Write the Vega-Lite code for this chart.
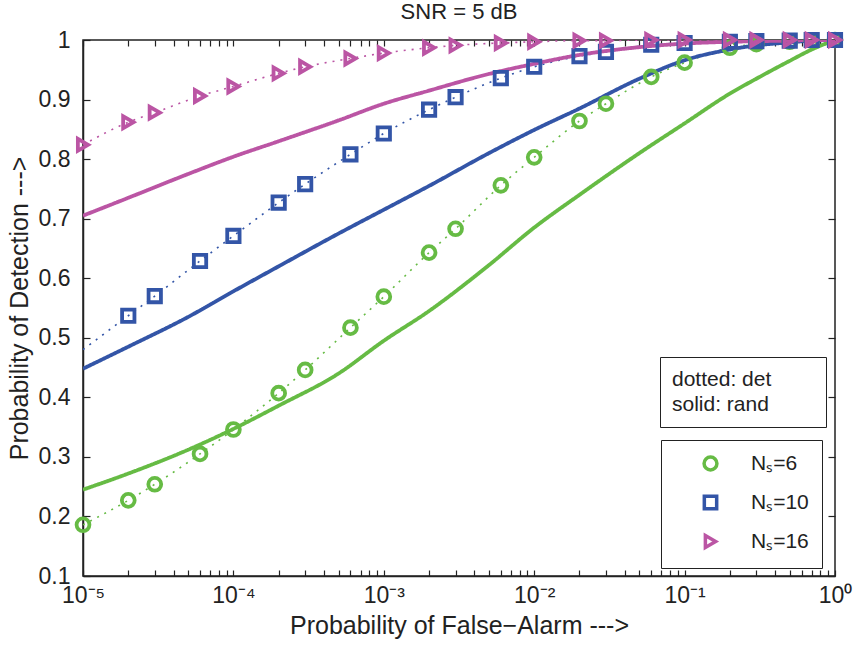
{
  "$schema": "https://vega.github.io/schema/vega-lite/v6.json",
  "width": 752,
  "height": 536,
  "autosize": {"type": "none"},
  "padding": {"left": 83, "top": 40, "right": 18, "bottom": 72},
  "background": "white",
  "title": {"text": "SNR = 5 dB", "fontSize": 22, "fontWeight": "normal", "font": "Liberation Sans", "color": "#222", "offset": 2, "anchor": "middle"},
  "config": {
    "view": {"stroke": "#222", "strokeWidth": 1.5},
    "font": "Liberation Sans",
    "axis": {"labelFont": "Liberation Sans", "titleFont": "Liberation Sans", "labelFontSize": 23, "titleFontSize": 25, "titleFontWeight": "normal", "labelColor": "#222", "titleColor": "#222", "domainColor": "#222", "tickColor": "#222", "grid": false, "tickWidth": 1.2, "domainWidth": 1.5},
    "legend": {"labelFont": "Liberation Sans", "labelFontSize": 21, "labelColor": "#222", "strokeColor": "#222", "fillColor": "white", "labelLimit": 400}
  },
  "data": {"values": [
    {"x": 0.00001, "pd": 0.186, "Ns": "6", "type": "det"},
    {"x": 0.00002, "pd": 0.227, "Ns": "6", "type": "det"},
    {"x": 0.00003, "pd": 0.254, "Ns": "6", "type": "det"},
    {"x": 0.00006, "pd": 0.305, "Ns": "6", "type": "det"},
    {"x": 0.0001, "pd": 0.346, "Ns": "6", "type": "det"},
    {"x": 0.0002, "pd": 0.407, "Ns": "6", "type": "det"},
    {"x": 0.0003, "pd": 0.446, "Ns": "6", "type": "det"},
    {"x": 0.0006, "pd": 0.517, "Ns": "6", "type": "det"},
    {"x": 0.001, "pd": 0.569, "Ns": "6", "type": "det"},
    {"x": 0.002, "pd": 0.643, "Ns": "6", "type": "det"},
    {"x": 0.003, "pd": 0.683, "Ns": "6", "type": "det"},
    {"x": 0.006, "pd": 0.756, "Ns": "6", "type": "det"},
    {"x": 0.01, "pd": 0.803, "Ns": "6", "type": "det"},
    {"x": 0.02, "pd": 0.864, "Ns": "6", "type": "det"},
    {"x": 0.03, "pd": 0.893, "Ns": "6", "type": "det"},
    {"x": 0.06, "pd": 0.938, "Ns": "6", "type": "det"},
    {"x": 0.1, "pd": 0.962, "Ns": "6", "type": "det"},
    {"x": 0.2, "pd": 0.987, "Ns": "6", "type": "det"},
    {"x": 0.3, "pd": 0.993, "Ns": "6", "type": "det"},
    {"x": 0.5, "pd": 0.997, "Ns": "6", "type": "det"},
    {"x": 0.7, "pd": 0.999, "Ns": "6", "type": "det"},
    {"x": 1, "pd": 1.0, "Ns": "6", "type": "det"},
    {"x": 0.00001, "pd": 0.48, "Ns": "10", "type": "det"},
    {"x": 0.00002, "pd": 0.537, "Ns": "10", "type": "det"},
    {"x": 0.00003, "pd": 0.570, "Ns": "10", "type": "det"},
    {"x": 0.00006, "pd": 0.629, "Ns": "10", "type": "det"},
    {"x": 0.0001, "pd": 0.671, "Ns": "10", "type": "det"},
    {"x": 0.0002, "pd": 0.727, "Ns": "10", "type": "det"},
    {"x": 0.0003, "pd": 0.758, "Ns": "10", "type": "det"},
    {"x": 0.0006, "pd": 0.808, "Ns": "10", "type": "det"},
    {"x": 0.001, "pd": 0.843, "Ns": "10", "type": "det"},
    {"x": 0.002, "pd": 0.883, "Ns": "10", "type": "det"},
    {"x": 0.003, "pd": 0.904, "Ns": "10", "type": "det"},
    {"x": 0.006, "pd": 0.936, "Ns": "10", "type": "det"},
    {"x": 0.01, "pd": 0.955, "Ns": "10", "type": "det"},
    {"x": 0.02, "pd": 0.973, "Ns": "10", "type": "det"},
    {"x": 0.03, "pd": 0.980, "Ns": "10", "type": "det"},
    {"x": 0.06, "pd": 0.992, "Ns": "10", "type": "det"},
    {"x": 0.1, "pd": 0.995, "Ns": "10", "type": "det"},
    {"x": 0.2, "pd": 0.997, "Ns": "10", "type": "det"},
    {"x": 0.3, "pd": 0.998, "Ns": "10", "type": "det"},
    {"x": 0.5, "pd": 0.999, "Ns": "10", "type": "det"},
    {"x": 0.7, "pd": 1.0, "Ns": "10", "type": "det"},
    {"x": 1, "pd": 1.0, "Ns": "10", "type": "det"},
    {"x": 0.00001, "pd": 0.824, "Ns": "16", "type": "det"},
    {"x": 0.00002, "pd": 0.862, "Ns": "16", "type": "det"},
    {"x": 0.00003, "pd": 0.878, "Ns": "16", "type": "det"},
    {"x": 0.00006, "pd": 0.906, "Ns": "16", "type": "det"},
    {"x": 0.0001, "pd": 0.922, "Ns": "16", "type": "det"},
    {"x": 0.0002, "pd": 0.944, "Ns": "16", "type": "det"},
    {"x": 0.0003, "pd": 0.955, "Ns": "16", "type": "det"},
    {"x": 0.0006, "pd": 0.969, "Ns": "16", "type": "det"},
    {"x": 0.001, "pd": 0.978, "Ns": "16", "type": "det"},
    {"x": 0.002, "pd": 0.987, "Ns": "16", "type": "det"},
    {"x": 0.003, "pd": 0.991, "Ns": "16", "type": "det"},
    {"x": 0.006, "pd": 0.995, "Ns": "16", "type": "det"},
    {"x": 0.01, "pd": 0.997, "Ns": "16", "type": "det"},
    {"x": 0.02, "pd": 0.999, "Ns": "16", "type": "det"},
    {"x": 0.03, "pd": 0.999, "Ns": "16", "type": "det"},
    {"x": 0.06, "pd": 1.0, "Ns": "16", "type": "det"},
    {"x": 0.1, "pd": 1.0, "Ns": "16", "type": "det"},
    {"x": 0.2, "pd": 1.0, "Ns": "16", "type": "det"},
    {"x": 0.3, "pd": 1.0, "Ns": "16", "type": "det"},
    {"x": 0.5, "pd": 1.0, "Ns": "16", "type": "det"},
    {"x": 0.7, "pd": 1.0, "Ns": "16", "type": "det"},
    {"x": 1, "pd": 1.0, "Ns": "16", "type": "det"},
    {"x": 0.00001, "pd": 0.245, "Ns": "6", "type": "rand"},
    {"x": 0.00002, "pd": 0.272, "Ns": "6", "type": "rand"},
    {"x": 0.00005, "pd": 0.312, "Ns": "6", "type": "rand"},
    {"x": 0.0001, "pd": 0.347, "Ns": "6", "type": "rand"},
    {"x": 0.0002, "pd": 0.386, "Ns": "6", "type": "rand"},
    {"x": 0.0005, "pd": 0.44, "Ns": "6", "type": "rand"},
    {"x": 0.001, "pd": 0.495, "Ns": "6", "type": "rand"},
    {"x": 0.002, "pd": 0.545, "Ns": "6", "type": "rand"},
    {"x": 0.005, "pd": 0.622, "Ns": "6", "type": "rand"},
    {"x": 0.01, "pd": 0.685, "Ns": "6", "type": "rand"},
    {"x": 0.02, "pd": 0.74, "Ns": "6", "type": "rand"},
    {"x": 0.05, "pd": 0.81, "Ns": "6", "type": "rand"},
    {"x": 0.1, "pd": 0.86, "Ns": "6", "type": "rand"},
    {"x": 0.2, "pd": 0.91, "Ns": "6", "type": "rand"},
    {"x": 0.3, "pd": 0.935, "Ns": "6", "type": "rand"},
    {"x": 0.5, "pd": 0.965, "Ns": "6", "type": "rand"},
    {"x": 0.7, "pd": 0.984, "Ns": "6", "type": "rand"},
    {"x": 1, "pd": 1.0, "Ns": "6", "type": "rand"},
    {"x": 0.00001, "pd": 0.448, "Ns": "10", "type": "rand"},
    {"x": 0.00002, "pd": 0.485, "Ns": "10", "type": "rand"},
    {"x": 0.00005, "pd": 0.535, "Ns": "10", "type": "rand"},
    {"x": 0.0001, "pd": 0.578, "Ns": "10", "type": "rand"},
    {"x": 0.0002, "pd": 0.62, "Ns": "10", "type": "rand"},
    {"x": 0.0005, "pd": 0.675, "Ns": "10", "type": "rand"},
    {"x": 0.001, "pd": 0.715, "Ns": "10", "type": "rand"},
    {"x": 0.002, "pd": 0.755, "Ns": "10", "type": "rand"},
    {"x": 0.005, "pd": 0.81, "Ns": "10", "type": "rand"},
    {"x": 0.01, "pd": 0.849, "Ns": "10", "type": "rand"},
    {"x": 0.02, "pd": 0.885, "Ns": "10", "type": "rand"},
    {"x": 0.05, "pd": 0.935, "Ns": "10", "type": "rand"},
    {"x": 0.1, "pd": 0.966, "Ns": "10", "type": "rand"},
    {"x": 0.2, "pd": 0.984, "Ns": "10", "type": "rand"},
    {"x": 0.3, "pd": 0.991, "Ns": "10", "type": "rand"},
    {"x": 0.5, "pd": 0.996, "Ns": "10", "type": "rand"},
    {"x": 0.7, "pd": 0.999, "Ns": "10", "type": "rand"},
    {"x": 1, "pd": 1.0, "Ns": "10", "type": "rand"},
    {"x": 0.00001, "pd": 0.705, "Ns": "16", "type": "rand"},
    {"x": 0.00002, "pd": 0.735, "Ns": "16", "type": "rand"},
    {"x": 0.00005, "pd": 0.775, "Ns": "16", "type": "rand"},
    {"x": 0.0001, "pd": 0.804, "Ns": "16", "type": "rand"},
    {"x": 0.0002, "pd": 0.83, "Ns": "16", "type": "rand"},
    {"x": 0.0005, "pd": 0.865, "Ns": "16", "type": "rand"},
    {"x": 0.001, "pd": 0.893, "Ns": "16", "type": "rand"},
    {"x": 0.002, "pd": 0.915, "Ns": "16", "type": "rand"},
    {"x": 0.005, "pd": 0.943, "Ns": "16", "type": "rand"},
    {"x": 0.01, "pd": 0.96, "Ns": "16", "type": "rand"},
    {"x": 0.02, "pd": 0.975, "Ns": "16", "type": "rand"},
    {"x": 0.05, "pd": 0.988, "Ns": "16", "type": "rand"},
    {"x": 0.1, "pd": 0.994, "Ns": "16", "type": "rand"},
    {"x": 0.2, "pd": 0.997, "Ns": "16", "type": "rand"},
    {"x": 0.3, "pd": 0.998, "Ns": "16", "type": "rand"},
    {"x": 0.5, "pd": 0.999, "Ns": "16", "type": "rand"},
    {"x": 0.7, "pd": 1.0, "Ns": "16", "type": "rand"},
    {"x": 1, "pd": 1.0, "Ns": "16", "type": "rand"}
  ]},
  "layer": [
    {
      "mark": {"type": "line", "clip": true, "interpolate": "monotone"},
      "encoding": {
        "x": {"field": "x", "type": "quantitative", "scale": {"type": "log", "domain": [0.00001, 1]},
          "axis": {"orient": "bottom", "title": "Probability of False−Alarm  --->", "titlePadding": 6,
            "values": [0.00001,0.00002,0.00003,0.00004,0.00005,0.00006,0.00007,0.00008,0.00009,0.0001,0.0002,0.0003,0.0004,0.0005,0.0006,0.0007,0.0008,0.0009,0.001,0.002,0.003,0.004,0.005,0.006,0.007,0.008,0.009,0.01,0.02,0.03,0.04,0.05,0.06,0.07,0.08,0.09,0.1,0.2,0.3,0.4,0.5,0.6,0.7,0.8,0.9,1],
            "labelExpr": "datum.value==0.00001?'10⁻⁵':datum.value==0.0001?'10⁻⁴':datum.value==0.001?'10⁻³':datum.value==0.01?'10⁻²':datum.value==0.1?'10⁻¹':datum.value==1?'10⁰':''",
            "labelOverlap": false, "labelFlush": false, "tickSize": -6, "labelPadding": 14}},
        "y": {"field": "pd", "type": "quantitative", "scale": {"domain": [0.1, 1]},
          "axis": {"orient": "left", "title": "Probability of Detection  --->", "titlePadding": 6,
            "values": [0.1,0.2,0.3,0.4,0.5,0.6,0.7,0.8,0.9,1], "format": "~g", "tickSize": -7, "labelPadding": 20}},
        "color": {"field": "Ns", "type": "nominal", "scale": {"domain": ["6", "10", "16"], "range": ["#66BB44", "#3355A7", "#BB55A4"]},
          "legend": {"title": null, "orient": "none", "legendX": 578, "legendY": 400, "padding": 13, "labelExpr": "'Nₛ=' + datum.label", "symbolStrokeWidth": 3.5, "rowPadding": 12, "symbolOffset": 26, "labelOffset": 30, "symbolFillColor": "transparent"}},
        "strokeDash": {"field": "type", "type": "nominal", "scale": {"domain": ["det", "rand"], "range": [[2, 6], [1, 0]]},
          "legend": {"title": null, "orient": "none", "legendX": 577, "legendY": 317, "padding": 12, "labelExpr": "datum.label=='det'?'dotted: det':'solid: rand\u2800\u2800\u2800'", "symbolType": "circle", "symbolSize": 0, "symbolOpacity": 0, "symbolStrokeWidth": 0, "labelOffset": -21, "rowPadding": 3}},
        "strokeWidth": {"field": "type", "type": "nominal", "scale": {"domain": ["det", "rand"], "range": [1.6, 3.8]}, "legend": null}
      }
    },
    {
      "transform": [{"filter": "datum.type == 'det' && !(datum.Ns == '10' && datum.x < 0.000015)"}],
      "mark": {"type": "point", "filled": false, "strokeWidth": 3.8, "opacity": 1},
      "encoding": {
        "x": {"field": "x", "type": "quantitative",
          "axis": {"orient": "top", "title": null, "labels": false, "domain": false, "tickSize": -6,
            "values": [0.00001,0.00002,0.00003,0.00004,0.00005,0.00006,0.00007,0.00008,0.00009,0.0001,0.0002,0.0003,0.0004,0.0005,0.0006,0.0007,0.0008,0.0009,0.001,0.002,0.003,0.004,0.005,0.006,0.007,0.008,0.009,0.01,0.02,0.03,0.04,0.05,0.06,0.07,0.08,0.09,0.1,0.2,0.3,0.4,0.5,0.6,0.7,0.8,0.9,1]}},
        "y": {"field": "pd", "type": "quantitative",
          "axis": {"orient": "right", "title": null, "labels": false, "domain": false, "tickSize": -7, "values": [0.1,0.2,0.3,0.4,0.5,0.6,0.7,0.8,0.9,1]}},
        "color": {"field": "Ns", "type": "nominal"},
        "shape": {"field": "Ns", "type": "nominal", "scale": {"domain": ["6", "10", "16"], "range": ["circle", "square", "triangle-right"]}},
        "size": {"field": "Ns", "type": "nominal", "scale": {"domain": ["6", "10", "16"], "range": [165, 140, 260]}}
      }
    }
  ],
  "resolve": {"axis": {"x": "independent", "y": "independent"}}
}
